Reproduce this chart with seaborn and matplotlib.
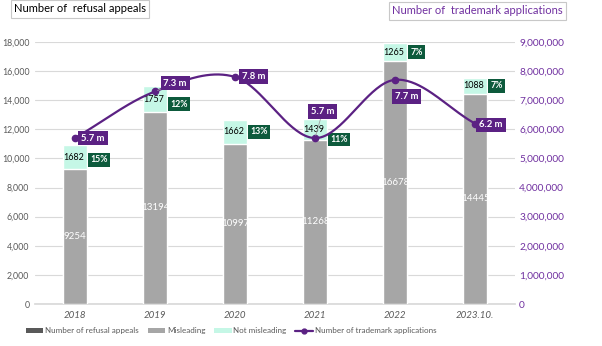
import numpy as np
import pandas as pd
import matplotlib
matplotlib.use("Agg")
import matplotlib.pyplot as plt
from matplotlib.patches import Patch
from matplotlib.lines import Line2D
import seaborn as sns

# ---- data ----
years = ["2018", "2019", "2020", "2021", "2022", "2023.10."]
misleading = [9254, 13194, 10997, 11268, 16678, 14445]
not_misleading = [1682, 1757, 1662, 1439, 1265, 1088]
applications_m = [5.7, 7.3, 7.8, 5.7, 7.7, 6.2]   # millions
left_ticks = [0, 2000, 4000, 6000, 8000, 10000, 12000, 14000, 16000, 18000]
right_ticks = [0, 1e6, 2e6, 3e6, 4e6, 5e6, 6e6, 7e6, 8e6, 9e6]

# ---- styling ----
sns.set_theme(style="white")
plt.rcParams["font.family"] = ["Lato", "DejaVu Sans"]

GRAY = "#a6a6a6"
DARK = "#595959"
MINT = "#c5f7e6"
PURPLE = "#5b2183"
GREEN = "#0d5a3c"
AXIS_PURPLE = "#7030a0"

df = pd.DataFrame({
    "year": years,
    "misleading": misleading,
    "not_misleading": not_misleading,
})
df["total"] = df["misleading"] + df["not_misleading"]
df["share"] = (df["not_misleading"] / df["total"] * 100).round().astype(int)
df["apps"] = np.array(applications_m) * 1e6

fig = plt.figure(figsize=(6.02, 3.46), dpi=100)
ax = fig.add_axes([35 / 602, (346 - 304) / 346, 480 / 602, 262 / 346])

# stacked bars: total in mint, misleading part drawn on top in gray
sns.barplot(data=df, x="year", y="total", color=MINT, width=0.31,
            saturation=1, ax=ax, zorder=2)
sns.barplot(data=df, x="year", y="misleading", color=GRAY, width=0.31,
            saturation=1, ax=ax, zorder=3)

ax.set_xlim(-0.5, len(years) - 0.5)
ax.set_ylim(0, 18000)
ax.set_yticks(left_ticks)
ax.set_yticklabels([f"{t:,}" for t in left_ticks], fontsize=6.3, color=DARK)
ax.set_xticks(range(len(years)))
ax.set_xticklabels(years, fontsize=7, color=DARK, style="italic")
ax.set_xlabel("")
ax.set_ylabel("")
ax.grid(axis="y", color="#d9d9d9", linewidth=0.8, zorder=0)
ax.set_axisbelow(True)
for s in ["top", "right", "left"]:
    ax.spines[s].set_visible(False)
ax.spines["bottom"].set_color("#d9d9d9")
ax.tick_params(axis="x", length=0, pad=5)
ax.tick_params(axis="y", length=0, pad=4)

# value labels on bars; share boxes nudged vertically (points) to clear the line
share_dy = [-2, -3.5, 0, -7, 0, 0]
for i, row in df.iterrows():
    ax.text(i, row["misleading"] / 2, f"{row['misleading']}", ha="center",
            va="center", fontsize=7, color="white", zorder=5)
    y_top = row["misleading"] + row["not_misleading"] / 2
    ax.text(i - 0.02, y_top, f"{row['not_misleading']}", ha="center",
            va="center", fontsize=6.5, color="black", zorder=5)
    ax.annotate(f"{row['share']}%", xy=(i + 0.19, y_top), xytext=(0, share_dy[i]),
                textcoords="offset points", ha="left", va="center",
                fontsize=6.3, fontweight="bold", color="white", zorder=6,
                bbox=dict(boxstyle="square,pad=0.25", fc=GREEN, ec="none"))

# secondary axis: trademark applications, smoothed line
ax2 = ax.twinx()
ax2.set_ylim(0, 9e6)
ax2.set_yticks(right_ticks)
ax2.set_yticklabels([f"{int(t):,}" for t in right_ticks], fontsize=7.3,
                    color=AXIS_PURPLE)
ax2.tick_params(axis="y", length=0, pad=3)
for s in ["top", "right", "left", "bottom"]:
    ax2.spines[s].set_visible(False)
ax2.grid(False)


def smooth_path(xs, ys, n=40):
    """Cardinal (Catmull-Rom) spline through the given points."""
    xs = np.asarray(xs, float)
    ys = np.asarray(ys, float)
    pts = np.column_stack([xs, ys])
    k = len(pts)
    tang = np.zeros_like(pts)
    for i in range(k):
        a = pts[max(i - 1, 0)]
        b = pts[min(i + 1, k - 1)]
        tang[i] = (b - a) / (2 if 0 < i < k - 1 else 1)
    out = []
    t = np.linspace(0, 1, n)
    for i in range(k - 1):
        p0, p1 = pts[i], pts[i + 1]
        m0, m1 = tang[i], tang[i + 1]
        h00 = 2 * t**3 - 3 * t**2 + 1
        h10 = t**3 - 2 * t**2 + t
        h01 = -2 * t**3 + 3 * t**2
        h11 = t**3 - t**2
        seg = (np.outer(h00, p0) + np.outer(h10, m0) +
               np.outer(h01, p1) + np.outer(h11, m1))
        out.append(seg if i == 0 else seg[1:])
    out = np.vstack(out)
    return out[:, 0], out[:, 1]


xi = np.arange(len(years))
sx, sy = smooth_path(xi, df["apps"])
ax2.plot(sx, sy, color=PURPLE, linewidth=1.6, zorder=7)
ax2.plot(xi, df["apps"], linestyle="none", marker="o", markersize=4.5,
         color=PURPLE, zorder=8)

# line labels (offsets in points), thin leader lines where the box sits apart
offsets = [(4.5, 0), (6, 6), (5, 0.5), (-3, 19), (0, -12), (3, -1)]
leaders = [False, True, False, True, False, False]
for i, (dx, dy) in enumerate(offsets):
    v = applications_m[i]
    ax2.annotate(f"{v} m", xy=(i, v * 1e6), xytext=(dx, dy),
                 textcoords="offset points", ha="left", va="center",
                 fontsize=6.8, fontweight="bold", color="white", zorder=9,
                 bbox=dict(boxstyle="square,pad=0.3", fc=PURPLE, ec="none"),
                 arrowprops=(dict(arrowstyle="-", color="#a0a0a0", lw=0.6,
                                  shrinkA=0, shrinkB=2)
                             if leaders[i] else None))

# axis titles in boxes
fig.text(14 / 602, 1 - 9 / 346, "Number of  refusal appeals", ha="left",
         va="center", fontsize=8, color="black",
         bbox=dict(boxstyle="square,pad=0.3", fc="white", ec="#c8c8c8", lw=0.8))
fig.text(392 / 602, 1 - 11 / 346, "Number of  trademark applications",
         ha="left", va="center", fontsize=8, color=AXIS_PURPLE,
         bbox=dict(boxstyle="square,pad=0.3", fc="white", ec="#c8c8c8", lw=0.8))

# legend
handles = [
    Patch(facecolor=DARK, edgecolor="none", label="Number of refusal appeals"),
    Patch(facecolor=GRAY, edgecolor="none", label="Misleading"),
    Patch(facecolor=MINT, edgecolor="none", label="Not misleading"),
    Line2D([0], [0], color=PURPLE, lw=1.6, marker="o", markersize=3.5,
           label="Number of trademark applications"),
]
fig.legend(handles=handles, loc="center", bbox_to_anchor=(231 / 602, 1 - 331 / 346),
           ncol=4, frameon=False, fontsize=5.8, handlelength=2.2,
           handleheight=0.5, handletextpad=0.2, columnspacing=1.1,
           labelcolor=DARK)

fig.savefig("out.png", dpi=100)
